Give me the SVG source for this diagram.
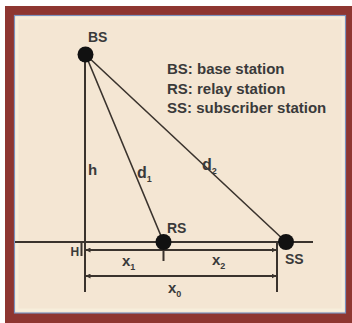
<svg xmlns="http://www.w3.org/2000/svg" width="352" height="323" viewBox="0 0 352 323">
<style>
.ln{stroke:#3a332d;stroke-width:2;fill:none}
.tl{stroke:#3a332d;stroke-width:1.6;fill:none}
.dot{fill:#111}
.lbl{font-family:"Liberation Sans",Arial,sans-serif;font-weight:bold;fill:#3a3a3a}
.sub{font-size:9px}
</style>
<defs>
<marker id="arr" viewBox="0 0 6 6" refX="6" refY="3" markerWidth="5" markerHeight="5" orient="auto-start-reverse" markerUnits="userSpaceOnUse"><path d="M0,0L6,3L0,6z" fill="#3a332d"/></marker>
</defs>
<rect width="352" height="323" fill="#fff"/>
<rect x="5" y="6" width="347" height="317" fill="#8e3631"/>
<rect x="14.5" y="15.5" width="331" height="297.5" fill="#f4e6d3" stroke="#7b93bf" stroke-width="1.2"/>
<rect x="17" y="18" width="326" height="292" fill="none" stroke="#f7eedb" stroke-width="3"/>
<g id="connectors">
<line class="ln" x1="85" y1="54.5" x2="85" y2="292"/>
<line class="tl" x1="85.5" y1="54.5" x2="163.5" y2="242"/>
<line class="tl" x1="85.5" y1="54.5" x2="286" y2="242"/>
<line class="ln" x1="15" y1="242" x2="313" y2="242"/>
<line class="ln" x1="85.5" y1="250" x2="276.5" y2="250" marker-start="url(#arr)" marker-end="url(#arr)"/>
<line class="ln" x1="85.5" y1="276" x2="276.5" y2="276" marker-start="url(#arr)" marker-end="url(#arr)"/>
<line class="ln" x1="277" y1="242" x2="277" y2="292"/>
<line class="ln" x1="163.5" y1="242" x2="163.5" y2="261"/>
<line class="ln" x1="81.5" y1="243" x2="81.5" y2="256"/>
</g>
<g id="BS">
<circle class="dot" cx="85.5" cy="54.5" r="8"/>
<text class="lbl" x="88" y="42" font-size="14">BS</text>
</g>
<g id="RS">
<circle class="dot" cx="163.5" cy="242" r="8"/>
<text class="lbl" x="167" y="233" font-size="14">RS</text>
</g>
<g id="SS">
<circle class="dot" cx="286" cy="242" r="8"/>
<text class="lbl" x="285" y="264" font-size="14">SS</text>
</g>
<g id="legend" class="lbl" font-size="15">
<text x="167" y="74">BS: base station</text>
<text x="167" y="93.5">RS: relay station</text>
<text x="167" y="113">SS: subscriber station</text>
</g>
<g id="labels" class="lbl" font-size="15">
<text x="88" y="175">h</text>
<text x="137" y="178" font-size="16">d<tspan class="sub" dy="4">1</tspan></text>
<text x="202" y="170" font-size="16">d<tspan class="sub" dy="4">2</tspan></text>
<text x="122" y="266">x<tspan class="sub" dy="4">1</tspan></text>
<text x="212" y="265">x<tspan class="sub" dy="4">2</tspan></text>
<text x="168" y="293">x<tspan class="sub" dy="4">0</tspan></text>
<text x="70.5" y="256" font-size="12">H</text>
</g>
</svg>
